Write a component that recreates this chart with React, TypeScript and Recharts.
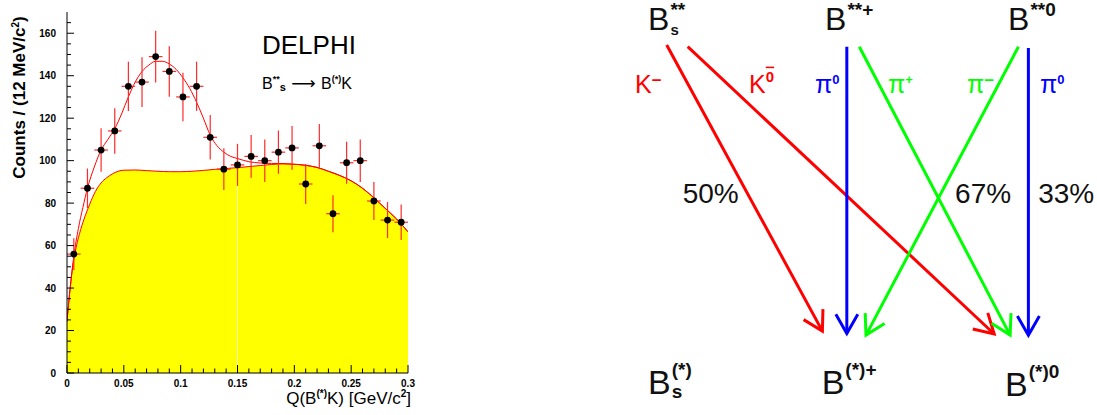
import React from "react";
import {
  ComposedChart,
  Area,
  Line,
  Scatter,
  ErrorBar,
  XAxis,
  YAxis,
  ReferenceLine,
} from "recharts";

const FONT = "'Liberation Sans', Arial, sans-serif";

// ---------- left panel: Q(B(*)K) histogram, 12 MeV bins ----------
const binCenters = [
  0.006, 0.018, 0.03, 0.042, 0.054, 0.066, 0.078, 0.09, 0.102, 0.114, 0.126, 0.138, 0.15,
  0.162, 0.174, 0.186, 0.198, 0.21, 0.222, 0.234, 0.246, 0.258, 0.27, 0.282, 0.294,
];
const binCounts = [
  56, 87, 105, 114, 135, 137, 149, 142, 130, 135, 111, 96, 98, 102, 100, 104, 106, 89, 107,
  75, 99, 100, 81, 72, 71,
];
const countErrors = [
  7.5, 9.3, 10.2, 10.7, 11.6, 11.7, 12.2, 11.9, 11.4, 11.6, 10.5, 9.8, 9.9, 10.1, 10.0,
  10.2, 10.3, 9.4, 10.3, 8.7, 9.9, 10.0, 9.0, 8.5, 8.4,
];
const binHalfWidth = 0.006;

// background shape (yellow)
const bgX = [
  0, 0.002, 0.005, 0.008, 0.012, 0.016, 0.02, 0.025, 0.03, 0.035, 0.04, 0.045, 0.05, 0.06,
  0.07, 0.08, 0.09, 0.1, 0.11, 0.12, 0.13, 0.14, 0.15, 0.16, 0.17, 0.18, 0.19, 0.2, 0.21,
  0.22, 0.23, 0.24, 0.25, 0.26, 0.27, 0.28, 0.29, 0.3,
];
const bgY = [
  24, 36, 50, 59, 67.5, 74, 79.5, 85.5, 89.5, 92, 93.8, 95, 95.5, 95.6, 95.3, 95, 94.8,
  94.8, 95, 95.4, 95.9, 96.3, 96.7, 97.2, 97.7, 98.2, 98.5, 98.3, 97.8, 96.8, 95, 93, 90.5,
  87, 82.5, 77.5, 72.5, 66.5,
];

// total fit (signal + background)
const fitX = [
  0, 0.003, 0.006, 0.01, 0.014, 0.018, 0.024, 0.03, 0.036, 0.042, 0.048, 0.054, 0.06, 0.066,
  0.072, 0.078, 0.084, 0.09, 0.096, 0.102, 0.108, 0.114, 0.12, 0.126, 0.132, 0.138, 0.144,
  0.15, 0.16, 0.17, 0.18, 0.19, 0.2, 0.21, 0.22, 0.23, 0.24, 0.25, 0.26, 0.27, 0.28, 0.29,
  0.3,
];
const fitY = [
  25, 41, 55, 68, 78, 87, 97, 105, 110, 115, 122, 130, 137, 142, 145, 146.8, 146.8, 145.5,
  143, 139, 134, 127.5, 120, 112, 107, 104, 102, 101, 99.5, 98.9, 98.7, 98.6, 98.3, 97.8,
  96.8, 95, 93, 90.5, 87, 82.5, 77.5, 72.5, 66.5,
];

const xMajorTicks = [0, 0.05, 0.1, 0.15, 0.2, 0.25, 0.3];
const xTickLabels = ["0", "0.05", "0.1", "0.15", "0.2", "0.25", "0.3"];
const xMinorTicks = [
  0.01, 0.02, 0.03, 0.04, 0.06, 0.07, 0.08, 0.09, 0.11, 0.12, 0.13, 0.14, 0.16, 0.17, 0.18,
  0.19, 0.21, 0.22, 0.23, 0.24, 0.26, 0.27, 0.28, 0.29,
];
const yMajorTicks = [0, 20, 40, 60, 80, 100, 120, 140, 160];
const yTickLabels = ["0", "20", "40", "60", "80", "100", "120", "140", "160"];
const yMinorTicks = [
  5, 10, 15, 25, 30, 35, 45, 50, 55, 65, 70, 75, 85, 90, 95, 105, 110, 115, 125, 130, 135,
  145, 150, 155, 165,
];

const points = binCenters.map((x, i) => ({
  x,
  y: binCounts[i],
  yErr: countErrors[i],
  xErr: binHalfWidth,
}));
const bgData = bgX.map((x, i) => ({ x, y: bgY[i] }));
const fitData = fitX.map((x, i) => ({ x, y: fitY[i] }));

const XTick = (props: any) => {
  const { x, y, payload } = props;
  const idx = xMajorTicks.indexOf(payload.value);
  const major = idx >= 0;
  return (
    <g>
      <line x1={x} x2={x} y1={y} y2={y - (major ? 8 : 4.5)} stroke="#000" />
      {major && (
        <text x={x} y={y + 13.5} textAnchor="middle" fontSize={10} fontWeight="bold" fontFamily={FONT} fill="#000">
          {xTickLabels[idx]}
        </text>
      )}
    </g>
  );
};

const YTick = (props: any) => {
  const { x, y, payload } = props;
  const idx = yMajorTicks.indexOf(payload.value);
  const major = idx >= 0;
  return (
    <g>
      <line x1={x} x2={x + (major ? 7 : 4)} y1={y} y2={y} stroke="#000" />
      {major && (
        <text x={x - 11} y={y + 3.5} textAnchor="end" fontSize={10} fontWeight="bold" fontFamily={FONT} fill="#000">
          {yTickLabels[idx]}
        </text>
      )}
    </g>
  );
};

const Dot = (p: any) => <circle cx={p.cx} cy={p.cy} r={3.4} fill="#000" />;

// ---------- right panel: decay diagram ----------
const RED = "#ff0000";
const BLUE = "#0000ff";
const GREEN = "#00ff00";

const DIAG_W = 477;
const DIAG_H = 415;
const diagXDomain = [-0.258, 2.377];
const diagYDomain = [-0.282, 1.1625];
const KX = DIAG_W / (diagXDomain[1] - diagXDomain[0]);
const KY = DIAG_H / (diagYDomain[1] - diagYDomain[0]);

// columns: 0 = Bs, 1 = B+, 2 = B0 ; y: 1 = top state, 0 = bottom state
const arrowColors = [RED, RED, BLUE, GREEN, GREEN, BLUE];
const arrowFromX = [0, 0.116, 0.995, 1.064, 1.943, 1.998];
const arrowFromY = [1.006, 1, 1, 1, 1, 0.995];
const arrowToX = [0.86, 1.809, 0.995, 1.897, 1.101, 1.998];
const arrowToY = [0.01, 0, 0.002, -0.004, -0.004, -0.004];

const stateLabels = [
  { x: -0.103, y: 1.058, main: "B", sup: "**", sub: "s", row: "top" },
  { x: 0.875, y: 1.058, main: "B", sup: "**+", row: "top" },
  { x: 1.886, y: 1.058, main: "B", sup: "**0", row: "top" },
  { x: -0.103, y: -0.209, main: "B", sup: "(*)", sub: "s", row: "bottom" },
  { x: 0.856, y: -0.209, main: "B", sup: "(*)+", row: "bottom" },
  { x: 1.869, y: -0.216, main: "B", sup: "(*)0", row: "bottom" },
];

const decayLabels = [
  { x: -0.175, y: 0.84, main: "K", sup: "\u2212", color: RED },
  { x: 0.455, y: 0.84, main: "K", sup: "0", bar: true, color: RED },
  { x: 0.819, y: 0.84, main: "\u03c0", sup: "0", color: BLUE },
  { x: 1.223, y: 0.84, main: "\u03c0", sup: "+", color: GREEN },
  { x: 1.659, y: 0.84, main: "\u03c0", sup: "\u2212", color: GREEN },
  { x: 2.062, y: 0.84, main: "\u03c0", sup: "0", color: BLUE },
];

const fractionText = ["50%", "67%", "33%"];
const fractionX = [0.088, 1.593, 2.052];
const fractionY = [0.456, 0.456, 0.456];
const fractionData = fractionText.map((t, i) => ({ x: fractionX[i], y: fractionY[i], t }));

const rowStyle: Record<string, any> = {
  top: { size: 32, supSize: 19, supDy: -14, subSize: 15, subDy: 5 },
  bottom: { size: 34, supSize: 19, supDy: -18, subSize: 19, subDy: 4 },
};

const StateLabel = (p: any) => {
  const d = p.payload;
  const s = rowStyle[d.row];
  const bx = p.cx + s.size * 0.667 + 1;
  return (
    <g fontFamily={FONT} fill="#111">
      <text x={p.cx} y={p.cy} fontSize={s.size}>{d.main}</text>
      <text x={bx} y={p.cy + s.supDy} fontSize={s.supSize} fontWeight="bold">{d.sup}</text>
      {d.sub && (
        <text x={bx} y={p.cy + s.subDy} fontSize={s.subSize} fontWeight="bold">{d.sub}</text>
      )}
    </g>
  );
};

const DecayLabel = (p: any) => {
  const d = p.payload;
  const minus = d.sup === "\u2212";
  return (
    <text x={p.cx} y={p.cy} fontSize={25} fontFamily={FONT} fill={d.color}>
      {d.main}
      <tspan
        dy={d.bar ? -11 : minus ? -7 : -9}
        fontSize={d.bar ? 15 : minus ? 17 : 13}
        fontWeight="bold"
        textDecoration={d.bar ? "overline" : undefined}
      >
        {d.sup}
      </tspan>
    </text>
  );
};

const FractionLabel = (p: any) => (
  <text x={p.cx} y={p.cy} fontSize={28} fontFamily={FONT} fill="#111">{p.payload.t}</text>
);

const arrowHead = (i: number) => (p: any) => {
  if (p.index !== 1) return <g key={`a${i}-${p.index}`} />;
  const dx = (arrowToX[i] - arrowFromX[i]) * KX;
  const dy = -(arrowToY[i] - arrowFromY[i]) * KY;
  const a = Math.atan2(dy, dx);
  const L = 22;
  const w = Math.PI / 6;
  const x1 = p.cx - L * Math.cos(a - w);
  const y1 = p.cy - L * Math.sin(a - w);
  const x2 = p.cx - L * Math.cos(a + w);
  const y2 = p.cy - L * Math.sin(a + w);
  return (
    <path
      key={`a${i}-${p.index}`}
      d={`M${x1},${y1}L${p.cx},${p.cy}L${x2},${y2}`}
      fill="none"
      stroke={arrowColors[i]}
      strokeWidth={3}
    />
  );
};

const App = () => {
  return (
    <div style={{ position: "absolute", left: 0, top: 0, width: 1097, height: 415, background: "#fff" }}>
      <div style={{ position: "absolute", left: 0, top: 0 }}>
        <ComposedChart width={420} height={415} margin={{ top: 12, right: 12, bottom: 0, left: 0 }}>
          <XAxis
            dataKey="x"
            type="number"
            domain={[0, 0.3]}
            allowDataOverflow
            ticks={[...xMajorTicks, ...xMinorTicks]}
            interval={0}
            height={42}
            tickSize={0}
            tickMargin={0}
            tickLine={false}
            tick={<XTick />}
            axisLine={{ stroke: "#000" }}
          />
          <YAxis
            type="number"
            domain={[0, 170]}
            allowDataOverflow
            ticks={[...yMajorTicks, ...yMinorTicks]}
            interval={0}
            width={67}
            tickSize={0}
            tickMargin={0}
            tickLine={false}
            tick={<YTick />}
            axisLine={{ stroke: "#000" }}
          />
          <XAxis xAxisId="top" orientation="top" type="number" domain={[0, 0.3]} height={0} tick={false} tickLine={false} axisLine={{ stroke: "#000" }} />
          <YAxis yAxisId="right" orientation="right" type="number" domain={[0, 170]} width={0} tick={false} tickLine={false} axisLine={{ stroke: "#000" }} />
          <Area
            data={bgData}
            dataKey="y"
            type="monotone"
            fill="#ffff00"
            fillOpacity={1}
            stroke={RED}
            strokeWidth={1}
            isAnimationActive={false}
          />
          <ReferenceLine
            segment={[{ x: 0.15, y: 0 }, { x: 0.15, y: 96.4 }]}
            stroke="#ffffff"
            strokeOpacity={0.7}
            strokeWidth={1}
          />
          <Line
            data={fitData}
            dataKey="y"
            type="monotone"
            stroke={RED}
            strokeWidth={1}
            dot={false}
            activeDot={false}
            isAnimationActive={false}
          />
          <Scatter data={points} dataKey="y" shape={<Dot />} isAnimationActive={false}>
            <ErrorBar dataKey="yErr" direction="y" width={0} stroke="#ff2a2a" strokeWidth={1.2} />
            <ErrorBar dataKey="xErr" direction="x" width={0} stroke="#ff2a2a" strokeWidth={1.2} />
          </Scatter>
        </ComposedChart>
      </div>

      <div style={{ position: "absolute", left: 620, top: 0 }}>
        <ComposedChart width={DIAG_W} height={DIAG_H} margin={{ top: 0, right: 0, bottom: 0, left: 0 }}>
          <XAxis dataKey="x" type="number" domain={diagXDomain} allowDataOverflow hide />
          <YAxis type="number" domain={diagYDomain} allowDataOverflow hide />
          {arrowColors.map((c, i) => (
            <Line
              key={`arrow${i}`}
              data={[
                { x: arrowFromX[i], y: arrowFromY[i] },
                { x: arrowToX[i], y: arrowToY[i] },
              ]}
              dataKey="y"
              type="linear"
              stroke={c}
              strokeWidth={3}
              dot={arrowHead(i)}
              activeDot={false}
              isAnimationActive={false}
            />
          ))}
          <Scatter data={stateLabels} dataKey="y" shape={<StateLabel />} isAnimationActive={false} />
          <Scatter data={decayLabels} dataKey="y" shape={<DecayLabel />} isAnimationActive={false} />
          <Scatter data={fractionData} dataKey="y" shape={<FractionLabel />} isAnimationActive={false} />
        </ComposedChart>
      </div>

      <svg width={1097} height={415} style={{ position: "absolute", left: 0, top: 0, pointerEvents: "none" }}>
        <g fontFamily={FONT} fill="#000">
          <text transform="translate(25,97.5) rotate(-90)" textAnchor="middle" fontSize={17} fontWeight="bold">
            Counts / (12 MeV/c<tspan dy={-6} fontSize={10}>2</tspan>
            <tspan dy={6}>)</tspan>
          </text>
          <text x={411} y={404} textAnchor="end" fontSize={17}>
            Q(B<tspan dy={-7} fontSize={10} fontWeight="bold">(*)</tspan>
            <tspan dy={7}>K) [GeV/c</tspan>
            <tspan dy={-7} fontSize={10} fontWeight="bold">2</tspan>
            <tspan dy={7}>]</tspan>
          </text>
          <text x={262} y={54} fontSize={26}>DELPHI</text>
          <text x={262} y={89} fontSize={16}>
            B<tspan dy={-7} fontSize={9} fontWeight="bold">**</tspan>
            <tspan dy={9} fontSize={11} fontWeight="bold">s</tspan>
            <tspan dy={-2} fontFamily="'DejaVu Sans'" fontSize={17}> {"\u27f6"} </tspan>
            <tspan>B</tspan>
            <tspan dy={-7} fontSize={9} fontWeight="bold">(*)</tspan>
            <tspan dy={7}>K</tspan>
          </text>
        </g>
      </svg>
    </div>
  );
};

export default App;
